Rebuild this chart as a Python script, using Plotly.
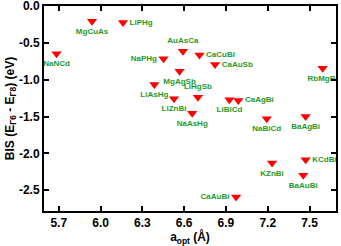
import plotly.graph_objects as go

names = ["NaNCd", "MgCuAs", "LiPHg", "NaPHg", "LiAsHg", "AuAsCa", "CaCuBi", "CaAuSb",
         "MgAgSb", "RbMgBi", "LiZnBi", "LiHgSb", "NaAsHg", "LiBiCd", "CaAgBi", "NaBiCd",
         "BaAgBi", "KZnBi", "KCdBi", "BaAuBi", "CaAuBi"]
a_opt = [5.684, 5.939, 6.161, 6.452, 6.386, 6.591, 6.710, 6.822,
         6.567, 7.594, 6.527, 6.699, 6.658, 6.925, 6.989, 7.193,
         7.472, 7.231, 7.472, 7.455, 6.973]
bis = [-0.647, -0.204, -0.221, -0.715, -1.064, -0.611, -0.661, -0.792,
       -0.883, -0.842, -1.258, -1.236, -1.454, -1.272, -1.281, -1.530,
       -1.499, -2.133, -2.087, -2.300, -2.595]
label_pos = ["bottom center", "bottom center", "middle right", "middle left", "bottom center",
             "top center", "middle right", "middle right", "bottom center", "bottom center",
             "bottom center", "top center", "bottom center", "bottom center", "middle right",
             "bottom center", "bottom center", "bottom center", "middle right", "bottom center",
             "middle left"]

FONT = "Liberation Sans, Arial, sans-serif"

fig = go.Figure()
fig.add_trace(go.Scatter(
    x=a_opt, y=bis, mode="markers+text", text=names, textposition=label_pos,
    marker=dict(symbol="triangle-down", size=9, color="#ff0000", line=dict(width=0)),
    textfont=dict(family=FONT, size=8, color="#1f9a1f", weight="bold"),
    cliponaxis=False, showlegend=False, hoverinfo="skip",
))

axis_common = dict(
    showline=True, linecolor="black", linewidth=2, mirror="ticks",
    ticks="inside", ticklen=5, tickwidth=1.5, tickcolor="black",
    showgrid=False, zeroline=False, automargin=False, ticklabeloverflow="allow",
    tickfont=dict(family=FONT, size=12, color="black", weight="bold"),
)

fig.update_layout(
    width=341, height=246,
    margin=dict(l=44, r=5, t=6, b=35),
    plot_bgcolor="white", paper_bgcolor="white",
    xaxis=dict(range=[5.594, 7.69], tickvals=[5.7, 6.0, 6.3, 6.6, 6.9, 7.2, 7.5],
               ticktext=["5.7", "6.0", "6.3", "6.6", "6.9", "7.2", "7.5"],
               title=dict(text="a<sub>opt</sub> (Å)", standoff=4,
                          font=dict(family=FONT, size=12, color="black", weight="bold")),
               **axis_common),
    yaxis=dict(range=[-2.785, 0.004], tickvals=[0.0, -0.5, -1.0, -1.5, -2.0, -2.5],
               ticktext=["0.0", "-0.5", "-1.0", "-1.5", "-2.0", "-2.5"],
               title=dict(text="BIS (E<sub>Γ6</sub> - E<sub>Γ8</sub>) (eV)", standoff=2,
                          font=dict(family=FONT, size=12, color="black", weight="bold")),
               **axis_common),
)

fig.write_html("out.html", config={"displayModeBar": False},
               post_script="document.body.style.margin='0';document.body.style.overflow='hidden';")
